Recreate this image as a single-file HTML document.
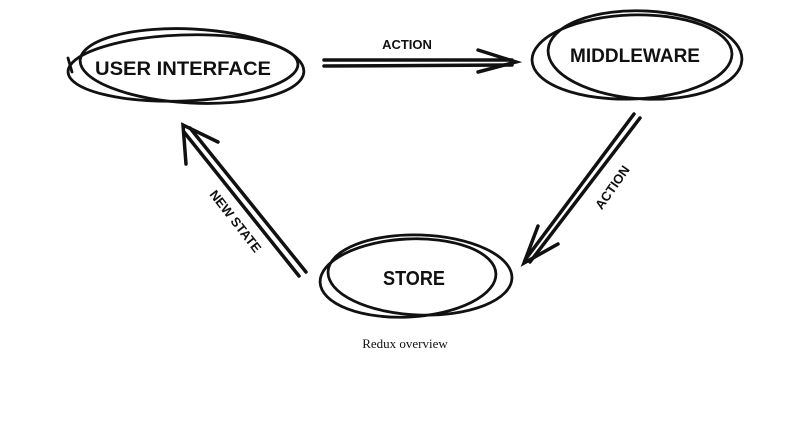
<!DOCTYPE html>
<html><head><meta charset="utf-8"><style>
html,body{margin:0;padding:0;background:#fff;}
svg{display:block}
.t{font-family:"Liberation Sans",sans-serif;font-weight:bold;fill:#111;}
</style></head><body>
<svg width="792" height="426" viewBox="0 0 792 426" xmlns="http://www.w3.org/2000/svg">
<g fill="none" stroke="#111" stroke-width="2.8" stroke-linecap="round">
<ellipse cx="183" cy="68" rx="115" ry="33" transform="rotate(-2 183 68)"/>
<ellipse cx="192" cy="66" rx="112" ry="37" transform="rotate(3 192 66)"/>
<path d="M68 58 L72 72"/>
<ellipse cx="632" cy="57" rx="100" ry="42" transform="rotate(-2 632 57)"/>
<ellipse cx="645" cy="55" rx="97" ry="44" transform="rotate(3 645 55)"/>
<ellipse cx="408" cy="278" rx="88" ry="39" transform="rotate(-3 408 278)"/>
<ellipse cx="420" cy="275" rx="92" ry="40" transform="rotate(2 420 275)"/>
<g stroke-width="3.5">
<path d="M324 60 L512 60"/>
<path d="M324 66 L512 65"/>
<path d="M478 50 L516 62 L478 72"/>
<path d="M634 114 L525 260"/>
<path d="M640 118 L530 262"/>
<path d="M538 226 L524 263 L558 244"/>
<path d="M299 276 L184 132"/>
<path d="M306 272 L190 128"/>
<path d="M186 164 L183 125 L218 142"/>
</g>
</g>
<text class="t" x="183" y="75" font-size="19" text-anchor="middle" textLength="176" lengthAdjust="spacingAndGlyphs">USER INTERFACE</text>
<text class="t" x="635" y="62" font-size="19" text-anchor="middle" textLength="130" lengthAdjust="spacingAndGlyphs">MIDDLEWARE</text>
<text class="t" x="414" y="285" font-size="20" text-anchor="middle" textLength="62" lengthAdjust="spacingAndGlyphs">STORE</text>
<text class="t" x="407" y="49" font-size="13" text-anchor="middle">ACTION</text>
<text class="t" font-size="13" text-anchor="middle" transform="translate(616 190) rotate(-55)">ACTION</text>
<text class="t" font-size="13" text-anchor="middle" transform="translate(232 224) rotate(52)">NEW STATE</text>
<text x="405" y="348" font-family="Liberation Serif,serif" font-size="13" text-anchor="middle" fill="#111">Redux overview</text>
</svg>
</body></html>
